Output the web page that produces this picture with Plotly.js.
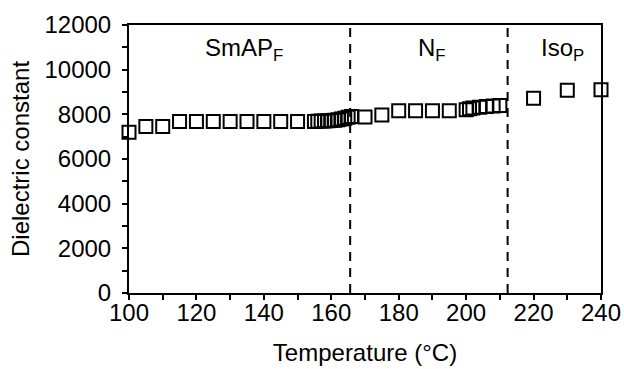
<!DOCTYPE html>
<html>
<head>
<meta charset="utf-8">
<script src="https://cdn.plot.ly/plotly-3.0.1.min.js"></script>
<style>html,body{margin:0;padding:0;background:#fff;}#chart{width:624px;height:369px;}</style>
</head>
<body>
<div id="chart"></div>
<script>
// Temperature (°C)
const temperature = [100,105,110,115,120,125,130,135,140,145,150,
  155,156,157,158,159,160,161,162,163,164,165,166,
  170,175,180,185,190,195,
  200,201,202,204,206,208,210,
  220,230,240];
// Dielectric constant
const dielectric = [7200,7450,7450,7680,7680,7680,7680,7680,7680,7680,7680,
  7680,7690,7700,7700,7710,7720,7740,7760,7790,7830,7870,7900,
  7880,7970,8160,8160,8160,8160,
  8210,8250,8280,8320,8350,8370,8400,
  8720,9080,9100];
// Phase transition temperatures (dashed lines)
const transitions = [165.6, 212.3];
// Phase labels
const phaseLabels = ['SmAP<sub>F</sub>', 'N<sub>F</sub>', 'Iso<sub>P</sub>'];
const phaseLabelX = [134, 190, 228.5];
const phaseLabelY = [10900, 10900, 10900];
const xTicks = [100,120,140,160,180,200,220,240];
const yTicks = [0,2000,4000,6000,8000,10000,12000];

const FS = 24;
const font = {family: 'Liberation Sans, Arial, sans-serif', color: '#000'};
const f = s => Object.assign({}, font, {size: s});

const trace = {
  x: temperature, y: dielectric, type: 'scatter', mode: 'markers',
  marker: {symbol: 'square-open', size: 13, color: '#000', line: {width: 2, color: '#000'}},
  cliponaxis: false, hoverinfo: 'skip'
};

const shapes = transitions.map(t => ({
  type: 'line', xref: 'x', yref: 'y', x0: t, x1: t, y0: 0, y1: 12000,
  line: {color: '#000', width: 2, dash: '9px,7px'}
}));

const annotations = phaseLabels.map((txt, i) => ({
  x: phaseLabelX[i], y: phaseLabelY[i], xref: 'x', yref: 'y', text: txt,
  showarrow: false, font: f(FS)
}));

const layout = {
  width: 624, height: 369,
  margin: {l: 129, r: 23, t: 25, b: 76},
  paper_bgcolor: '#fff', plot_bgcolor: '#fff',
  showlegend: false,
  font: f(FS),
  xaxis: {
    range: [100, 240], tickvals: xTicks, ticktext: xTicks.map(String),
    ticks: 'outside', ticklen: 5, tickwidth: 2, tickcolor: '#000',
    minor: {dtick: 10, tick0: 100, ticks: 'outside', ticklen: 5, tickwidth: 2, tickcolor: '#000'},
    showline: true, linecolor: '#000', linewidth: 2, mirror: true,
    showgrid: false, zeroline: false,
    tickfont: f(FS), ticklabelstandoff: -8,
    title: {text: 'Temperature (°C)', font: f(FS), standoff: 19}
  },
  yaxis: {
    range: [0, 12000], tickvals: yTicks, ticktext: yTicks.map(String),
    ticks: 'outside', ticklen: 5, tickwidth: 2, tickcolor: '#000',
    minor: {dtick: 1000, tick0: 0, ticks: 'outside', ticklen: 5, tickwidth: 2, tickcolor: '#000'},
    showline: true, linecolor: '#000', linewidth: 2, mirror: true,
    showgrid: false, zeroline: false,
    tickfont: f(FS), ticklabelstandoff: 6,
    title: {text: 'Dielectric constant', font: f(FS), standoff: 8}
  },
  shapes: shapes,
  annotations: annotations
};

Plotly.newPlot('chart', [trace], layout, {displayModeBar: false, staticPlot: true});
</script>
</body>
</html>
